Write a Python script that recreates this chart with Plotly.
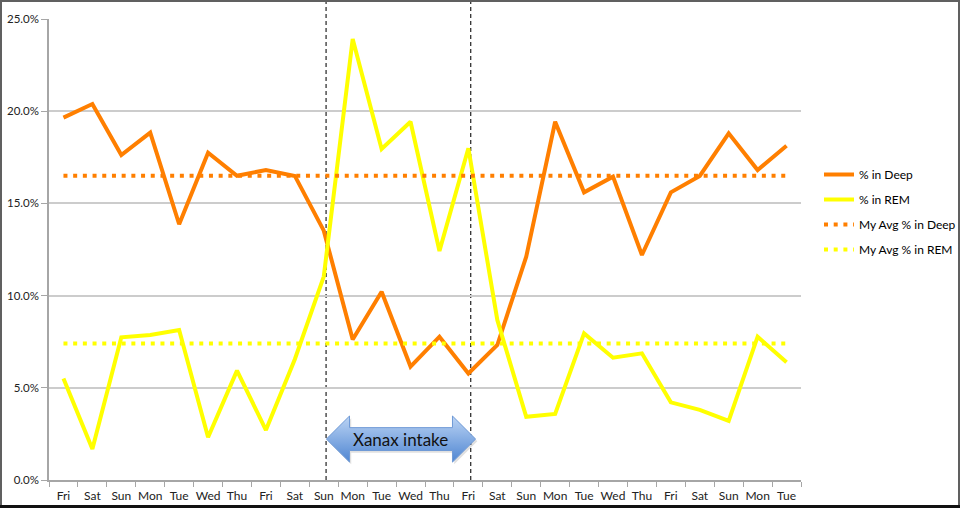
import plotly.graph_objects as go

# ---------------- data ----------------
days = ["Fri", "Sat", "Sun", "Mon", "Tue", "Wed", "Thu", "Fri", "Sat", "Sun",
        "Mon", "Tue", "Wed", "Thu", "Fri", "Sat", "Sun", "Mon", "Tue", "Wed",
        "Thu", "Fri", "Sat", "Sun", "Mon", "Tue"]
deep = [0.1965, 0.2039, 0.1762, 0.1884, 0.1387, 0.1775, 0.1650, 0.1681, 0.1649, 0.1352,
        0.0762, 0.1021, 0.0615, 0.0777, 0.0578, 0.0732, 0.1211, 0.1943, 0.1560, 0.1645,
        0.1220, 0.1560, 0.1649, 0.1880, 0.1681, 0.1813]
rem = [0.0551, 0.0168, 0.0774, 0.0786, 0.0813, 0.0232, 0.0593, 0.0271, 0.0655, 0.1103,
       0.2392, 0.1795, 0.1943, 0.1242, 0.1799, 0.0868, 0.0343, 0.0358, 0.0795, 0.0663,
       0.0687, 0.0421, 0.0380, 0.0320, 0.0777, 0.0638]
avg_deep = 0.165
avg_rem = 0.074
xanax_start = 9   # index of first intake day (Sun)
xanax_end = 14    # index of last intake day (Fri)
arrow_label = "Xanax intake"
y_ticks = [0, 0.05, 0.10, 0.15, 0.20, 0.25]

# ---------------- layout geometry ----------------
W, H = 960, 508
ML, MR, MT, MB = 49, 159, 19, 28
PW, PH = W - ML - MR, H - MT - MB

def px_x(p):
    return (p - ML) / PW

def px_y(p):
    return (H - MB - p) / PH

ORANGE = "#FF7F00"
YELLOW = "#FFFF00"
FONT = "Lato"

x = list(range(len(days)))
dotdash = "4px,5.7px"

fig = go.Figure()

fig.add_trace(go.Scatter(x=x, y=deep, mode="lines", name="% in Deep",
                         line=dict(color=ORANGE, width=4), legendgroup="a"))
fig.add_trace(go.Scatter(x=x, y=rem, mode="lines", name="% in REM",
                         line=dict(color=YELLOW, width=4), legendgroup="b"))
fig.add_trace(go.Scatter(x=[x[0], x[-1]], y=[avg_deep, avg_deep], mode="lines",
                         name="My Avg % in Deep",
                         line=dict(color=ORANGE, width=4, dash=dotdash), legendgroup="c"))
fig.add_trace(go.Scatter(x=[x[0], x[-1]], y=[avg_rem, avg_rem], mode="lines",
                         name="My Avg % in REM",
                         line=dict(color=YELLOW, width=4, dash=dotdash), legendgroup="d"))

# ---------------- Xanax arrow (annotation graphic) ----------------
ax0 = xanax_start + 0.09
ax1 = xanax_end + 0.25
head = 0.8
yc, hh, bh = 0.0222, 0.0125, 0.0062
arr_x = [ax0, ax0 + head, ax0 + head, ax1 - head, ax1 - head, ax1,
         ax1 - head, ax1 - head, ax0 + head, ax0 + head, ax0]
arr_y = [yc, yc + hh, yc + bh, yc + bh, yc + hh, yc,
         yc - hh, yc - bh, yc - bh, yc - hh, yc]
# shadow
fig.add_trace(go.Scatter(x=[v + 0.06 for v in arr_x], y=[v - 0.0012 for v in arr_y],
                         mode="lines", fill="toself", fillcolor="rgba(0,0,0,0.12)",
                         line=dict(width=0), showlegend=False, hoverinfo="skip"))
fig.add_trace(go.Scatter(x=arr_x, y=arr_y, mode="lines", fill="toself",
                         fillgradient=dict(type="vertical",
                                           colorscale=[[0, "#4f86d2"], [1, "#bcd4f4"]]),
                         line=dict(color="#6f9ad6", width=1),
                         showlegend=False, hoverinfo="skip"))

fig.add_annotation(x=(ax0 + ax1) / 2, y=yc, text=arrow_label, showarrow=False,
                   font=dict(family=FONT, size=17, color="#111111"))

# dashed vertical markers
shapes = []
for xi in (xanax_start + 0.08, xanax_end + 0.08):
    shapes.append(dict(type="line", xref="x", yref="paper", x0=xi, x1=xi,
                       y0=0, y1=px_y(0), layer="between",
                       line=dict(color="#333333", width=1.3, dash="4px,3px")))
# outer frame
shapes.append(dict(type="rect", xref="paper", yref="paper",
                   x0=px_x(1), x1=px_x(959), y0=px_y(506), y1=px_y(1),
                   line=dict(color="#606060", width=2), layer="above"))
shapes.append(dict(type="line", xref="paper", yref="paper",
                   x0=px_x(0), x1=px_x(960), y0=px_y(506.5), y1=px_y(506.5),
                   line=dict(color="#111111", width=3), layer="above"))

fig.update_layout(
    width=W, height=H,
    margin=dict(l=ML, r=MR, t=MT, b=MB, pad=0, autoexpand=False),
    paper_bgcolor="white", plot_bgcolor="white",
    font=dict(family=FONT, size=11, color="#222222"),
    shapes=shapes,
    showlegend=True,
    legend=dict(x=px_x(819), y=px_y(212), xanchor="left", yanchor="middle",
                font=dict(family=FONT, size=12, color="#000000"),
                tracegroupgap=6, itemwidth=30, bgcolor="rgba(0,0,0,0)"),
    hovermode=False,
)

fig.update_xaxes(range=[-0.5, len(days) - 0.5], tickmode="array", tickvals=x,
                 ticktext=days, ticks="", showgrid=False, zeroline=False,
                 showline=True, linecolor="#a6a6a6", linewidth=1.5,
                 ticklabelstandoff=4, automargin=False,
                 tickfont=dict(family=FONT, size=12, color="#222222"),
                 minor=dict(tickmode="array",
                            tickvals=[i - 0.5 for i in range(len(days) + 1)],
                            ticks="outside", ticklen=5, tickcolor="#a6a6a6",
                            tickwidth=1.3, showgrid=False))

fig.update_yaxes(range=[0, 0.25], tickmode="array", tickvals=y_ticks,
                 tickformat=".1%", ticks="outside", ticklen=6, tickcolor="#a6a6a6",
                 tickwidth=1.3, showgrid=True, gridcolor="#cccccc", gridwidth=1.6,
                 zeroline=False, showline=True, linecolor="#a6a6a6", linewidth=1.5,
                 automargin=False,
                 tickfont=dict(family=FONT, size=11.5, color="#222222"))

fig.write_html("out.html")
